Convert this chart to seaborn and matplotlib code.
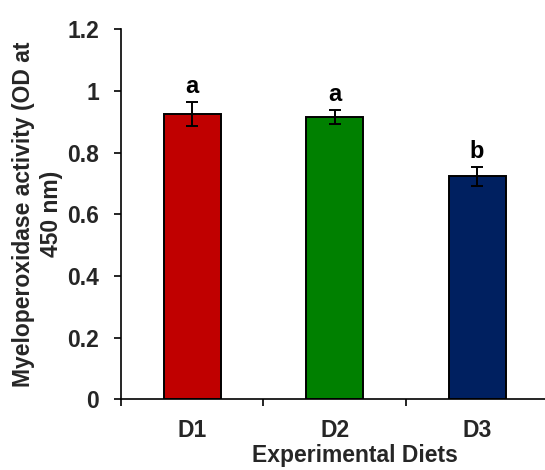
import matplotlib
matplotlib.use("Agg")
import matplotlib.pyplot as plt
from matplotlib.ticker import FixedLocator
import seaborn as sns
import pandas as pd

diets = ["D1", "D2", "D3"]
mpo_mean = [0.925, 0.915, 0.723]
mpo_se = [0.040, 0.023, 0.031]
sig_letters = ["a", "a", "b"]
bar_colors = ["#C00000", "#008000", "#002060"]
y_ticks = [0, 0.2, 0.4, 0.6, 0.8, 1.0, 1.2]
y_tick_labels = ["0", "0.2", "0.4", "0.6", "0.8", "1", "1.2"]

sns.set_theme(style="white")
plt.rcParams["font.family"] = ["Liberation Sans", "DejaVu Sans"]
plt.rcParams["font.weight"] = "bold"

df = pd.DataFrame({"diet": diets, "mpo": mpo_mean})

fig = plt.figure(figsize=(5.45, 4.70), dpi=100)
ax = fig.add_axes([0.222, 0.1504, 0.784, 0.7873])

sns.barplot(data=df, x="diet", y="mpo", hue="diet", palette=bar_colors,
            order=diets, hue_order=diets, width=0.4, errorbar=None,
            legend=False, edgecolor="black", linewidth=1.4, ax=ax,
            saturation=1)

xpos = list(range(len(diets)))
ax.errorbar(xpos, mpo_mean, yerr=mpo_se, fmt="none", ecolor="black",
            elinewidth=1.4, capsize=4.5, capthick=1.4, zorder=5)

for x, m, s, lab in zip(xpos, mpo_mean, mpo_se, sig_letters):
    ax.text(x, m + s + 0.012, lab, ha="center", va="bottom",
            fontsize=17, fontweight="bold", color="black")

ax.set_xlim(-0.5, 2.5)
ax.set_ylim(0, 1.2)
ax.set_yticks(y_ticks)
ax.set_yticklabels(y_tick_labels)

ax.xaxis.set_minor_locator(FixedLocator([-0.5, 0.5, 1.5, 2.5]))
ax.tick_params(axis="x", which="major", length=0, pad=14, labelsize=16.5)
ax.tick_params(axis="x", which="minor", length=5, width=1.2, direction="out",
               bottom=True, color="black")
ax.tick_params(axis="y", which="major", length=5, width=1.2, direction="out",
               left=True, pad=11, labelsize=16.5, color="black")
for lab in ax.get_xticklabels() + ax.get_yticklabels():
    lab.set_fontweight("bold")

for side in ["top", "right"]:
    ax.spines[side].set_visible(False)
for side in ["left", "bottom"]:
    ax.spines[side].set_color("black")
    ax.spines[side].set_linewidth(1.2)

ax.set_xlabel("Experimental Diets", fontsize=16.5, fontweight="bold")
ax.xaxis.set_label_coords(0.548, -0.122)
ax.set_ylabel("Myeloperoxidase activity (OD at\n450 nm)", fontsize=16.5,
              fontweight="bold", linespacing=1.3)
ax.yaxis.set_label_coords(-0.135, 0.5)

fig.savefig("out.png", dpi=100)
